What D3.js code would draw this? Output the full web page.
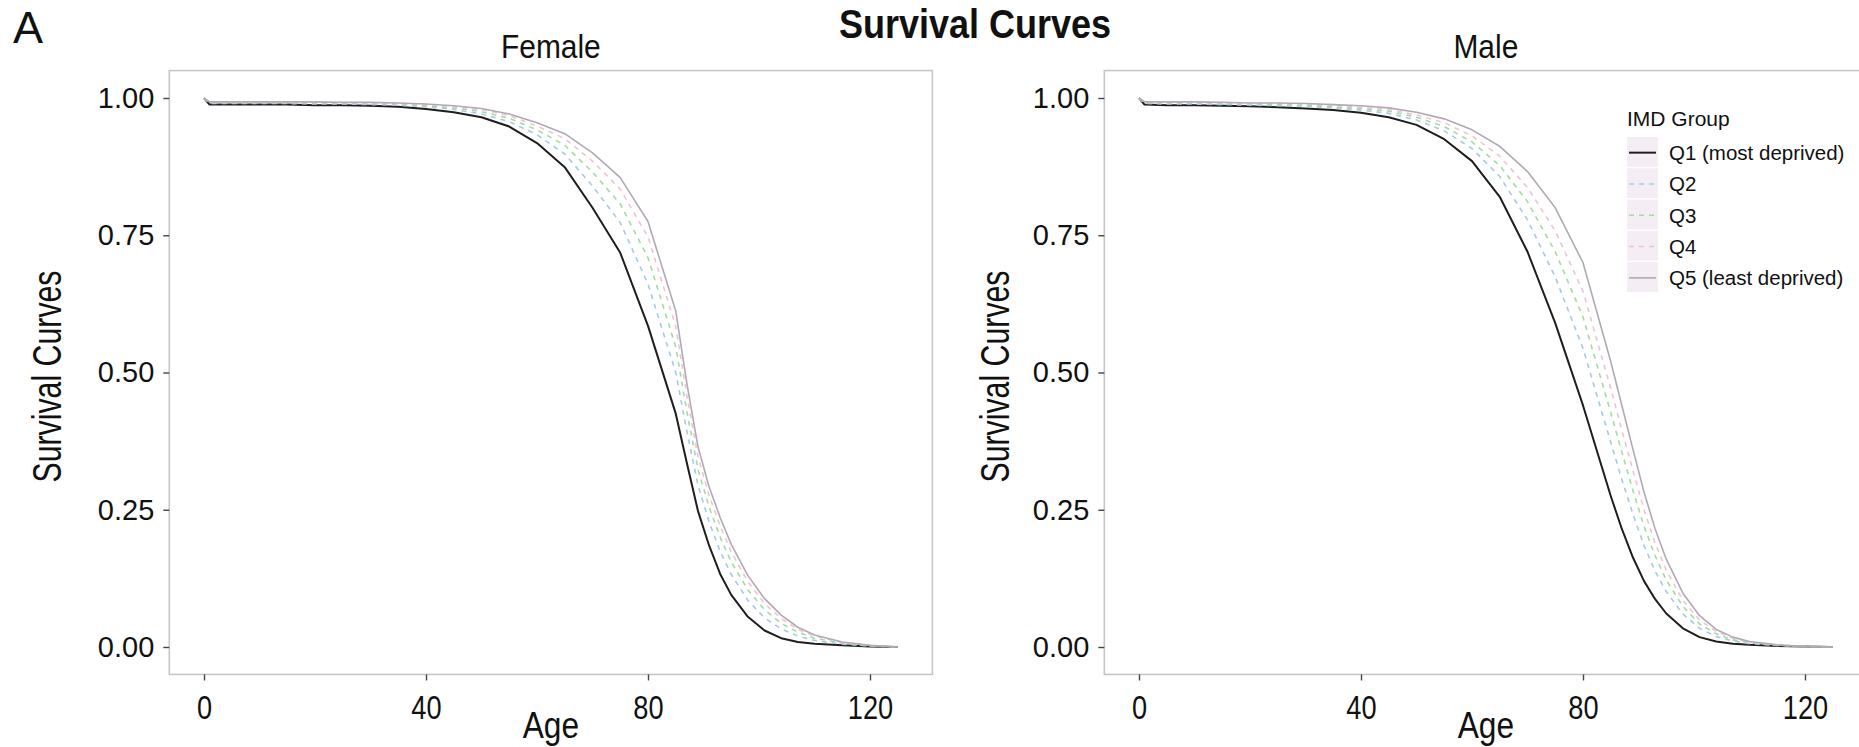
<!DOCTYPE html>
<html>
<head>
<meta charset="utf-8">
<script src="https://cdn.jsdelivr.net/npm/d3@7"></script>
<style>
  html, body { margin: 0; padding: 0; background: #fff; }
  svg { display: block; }
</style>
</head>
<body>
<svg id="chart" width="1859" height="747"></svg>
<script>
// Survival by age and deprivation quintile, per sex
const ages = [0, 1, 5, 10, 15, 20, 25, 30, 35, 40, 45, 50, 55, 60, 65, 70, 75, 80, 85,
              87, 89, 91, 93, 95, 98, 101, 104, 107, 110, 115, 120, 125];

const femaleQ1 = [1.000, 0.988, 0.988, 0.988, 0.988, 0.987, 0.987, 0.986, 0.984, 0.980, 0.974, 0.965, 0.948, 0.918, 0.874, 0.800, 0.718, 0.585, 0.425,
                  0.335, 0.248, 0.185, 0.133, 0.095, 0.055, 0.030, 0.016, 0.009, 0.006, 0.003, 0.001, 0.000];
const femaleQ2 = [1.000, 0.990, 0.990, 0.990, 0.990, 0.989, 0.989, 0.988, 0.987, 0.984, 0.979, 0.971, 0.957, 0.933, 0.898, 0.840, 0.773, 0.661, 0.500,
                  0.393, 0.295, 0.228, 0.174, 0.132, 0.085, 0.053, 0.033, 0.020, 0.012, 0.005, 0.002, 0.000];
const femaleQ3 = [1.000, 0.991, 0.991, 0.991, 0.991, 0.991, 0.990, 0.990, 0.989, 0.986, 0.982, 0.975, 0.963, 0.942, 0.914, 0.865, 0.807, 0.709, 0.547,
                  0.429, 0.324, 0.255, 0.200, 0.155, 0.104, 0.068, 0.043, 0.027, 0.016, 0.007, 0.002, 0.000];
const femaleQ4 = [1.000, 0.992, 0.992, 0.992, 0.992, 0.992, 0.991, 0.991, 0.990, 0.988, 0.984, 0.979, 0.968, 0.949, 0.926, 0.885, 0.834, 0.747, 0.584,
                  0.458, 0.347, 0.276, 0.221, 0.173, 0.119, 0.079, 0.052, 0.032, 0.020, 0.008, 0.003, 0.000];
const femaleQ5 = [1.000, 0.993, 0.993, 0.993, 0.993, 0.993, 0.992, 0.992, 0.991, 0.989, 0.986, 0.981, 0.971, 0.955, 0.935, 0.900, 0.855, 0.775, 0.612,
                  0.480, 0.365, 0.292, 0.236, 0.187, 0.130, 0.088, 0.058, 0.036, 0.022, 0.009, 0.003, 0.000];

const maleQ1 = [1.000, 0.988, 0.987, 0.987, 0.986, 0.985, 0.983, 0.981, 0.978, 0.973, 0.965, 0.951, 0.925, 0.885, 0.820, 0.720, 0.590, 0.440, 0.275,
                0.215, 0.163, 0.120, 0.087, 0.061, 0.034, 0.018, 0.010, 0.006, 0.004, 0.002, 0.001, 0.000];
const maleQ2 = [1.000, 0.990, 0.989, 0.989, 0.988, 0.987, 0.986, 0.985, 0.982, 0.978, 0.972, 0.960, 0.940, 0.908, 0.857, 0.778, 0.674, 0.544, 0.373,
                0.305, 0.242, 0.185, 0.138, 0.101, 0.060, 0.034, 0.019, 0.011, 0.006, 0.003, 0.001, 0.000];
const maleQ3 = [1.000, 0.991, 0.991, 0.991, 0.990, 0.989, 0.988, 0.987, 0.984, 0.981, 0.976, 0.965, 0.948, 0.920, 0.877, 0.811, 0.720, 0.601, 0.427,
                0.355, 0.285, 0.220, 0.166, 0.122, 0.074, 0.042, 0.024, 0.013, 0.008, 0.003, 0.001, 0.000];
const maleQ4 = [1.000, 0.992, 0.992, 0.992, 0.991, 0.990, 0.990, 0.989, 0.987, 0.983, 0.979, 0.969, 0.955, 0.931, 0.894, 0.837, 0.758, 0.648, 0.471,
                0.395, 0.321, 0.250, 0.189, 0.140, 0.085, 0.049, 0.028, 0.016, 0.009, 0.004, 0.001, 0.000];
const maleQ5 = [1.000, 0.993, 0.993, 0.993, 0.992, 0.991, 0.991, 0.990, 0.988, 0.986, 0.982, 0.974, 0.962, 0.942, 0.912, 0.866, 0.800, 0.700, 0.520,
                0.440, 0.360, 0.282, 0.215, 0.160, 0.098, 0.057, 0.032, 0.018, 0.010, 0.004, 0.001, 0.000];

const groupLabels = ["Q1 (most deprived)", "Q2", "Q3", "Q4", "Q5 (least deprived)"];
const groupColors = ["#1e1e1e", "#a3cbe6", "#a3dc9c", "#efc4d2", "#b2a8b6"];
const groupDashes = [null, "5,5", "5,5", "5,5", null];
const groupWidths = [2.0, 1.6, 1.6, 1.6, 1.6];

const panelTitles = ["Female", "Male"];
const xTicks = [0, 40, 80, 120];
const yTicks = [0, 0.25, 0.5, 0.75, 1];

const panels = [
  { title: panelTitles[0], series: [femaleQ1, femaleQ2, femaleQ3, femaleQ4, femaleQ5], x0: 204, yTitleGap: 108 },
  { title: panelTitles[1], series: [maleQ1, maleQ2, maleQ3, maleQ4, maleQ5], x0: 1139, yTitleGap: 95 }
];

const svg = d3.select("#chart");
const FONT = "'Liberation Sans', Arial, Helvetica, sans-serif";
const NARROW = 0.88;   // horizontal squeeze applied to the condensed labels

// Write a text element; squeeze scales its natural width, length forces an exact width
function label(g, txt, opts) {
  const t = g.append("text")
    .attr("x", opts.x).attr("y", opts.y)
    .attr("font-family", FONT)
    .attr("font-size", opts.size)
    .attr("font-weight", opts.weight || "normal")
    .attr("text-anchor", opts.anchor || "start")
    .attr("fill", opts.fill || "#111")
    .text(txt);
  if (opts.rotate) t.attr("transform", `rotate(${opts.rotate},${opts.x},${opts.y})`);
  if (opts.squeeze || opts.length) {
    const w = opts.length || t.node().getComputedTextLength() * opts.squeeze;
    t.attr("textLength", w).attr("lengthAdjust", "spacingAndGlyphs");
  }
  return t;
}

// Panel label and main title
label(svg, "A", { x: 13, y: 43, size: 45 });
label(svg, "Survival Curves", { x: 975, y: 38, size: 40, weight: "bold", anchor: "middle", squeeze: 0.9 });

const y = d3.scaleLinear().domain([0, 1]).range([647, 98]);
const yTop = y(1.05), yBottom = y(-0.05);

panels.forEach((p, pi) => {
  const x = d3.scaleLinear().domain([0, 120]).range([p.x0, p.x0 + 666]);
  const left = x(-6.25), right = x(131.25);
  const g = svg.append("g");

  // clip region for the curves
  const clipId = "clip" + pi;
  svg.append("clipPath").attr("id", clipId)
    .append("rect").attr("x", left).attr("y", yTop).attr("width", right - left).attr("height", yBottom - yTop);

  // panel frame
  g.append("rect")
    .attr("x", left).attr("y", yTop)
    .attr("width", right - left).attr("height", yBottom - yTop)
    .attr("fill", "#fff").attr("stroke", "#c6c6c6").attr("stroke-width", 1.6);

  // curves
  const line = d3.line().x((d, i) => x(ages[i])).y(d => y(d)).curve(d3.curveLinear);
  const curves = g.append("g").attr("clip-path", `url(#${clipId})`);
  p.series.forEach((vals, k) => {
    curves.append("path")
      .attr("d", line(vals))
      .attr("fill", "none")
      .attr("stroke", groupColors[k])
      .attr("stroke-width", groupWidths[k])
      .attr("stroke-dasharray", groupDashes[k])
      .attr("stroke-linejoin", "round");
  });

  // y axis
  const yAxis = g.append("g").attr("transform", `translate(${left},0)`)
    .call(d3.axisLeft(y).tickValues(yTicks).tickFormat(d3.format(".2f")).tickSize(6).tickPadding(9));
  yAxis.select(".domain").remove();
  yAxis.selectAll(".tick line").attr("stroke", "#444").attr("stroke-width", 1.4);
  yAxis.selectAll(".tick text").attr("font-family", FONT).attr("font-size", 29).attr("fill", "#111");

  // x axis
  const xAxis = g.append("g").attr("transform", `translate(0,${yBottom})`)
    .call(d3.axisBottom(x).tickValues(xTicks).tickFormat(d3.format("d")).tickSize(6).tickPadding(14));
  xAxis.select(".domain").remove();
  xAxis.selectAll(".tick line").attr("stroke", "#444").attr("stroke-width", 1.4);
  xAxis.selectAll(".tick text").attr("font-family", FONT).attr("font-size", 34).attr("fill", "#111")
    .each(function () {
      const w = this.getComputedTextLength();
      d3.select(this).attr("textLength", w * 0.8).attr("lengthAdjust", "spacingAndGlyphs");
    });

  // strip title, axis titles
  const cx = (left + right) / 2;
  label(g, p.title, { x: cx, y: 58, size: 34, anchor: "middle", squeeze: NARROW });
  label(g, "Age", { x: cx, y: 738, size: 36, anchor: "middle", squeeze: NARROW });
  label(g, "Survival Curves", { x: left - p.yTitleGap, y: (yTop + yBottom) / 2 + 4, size: 40, anchor: "middle", rotate: -90, length: 212 });
});

// Legend
const lg = svg.append("g").attr("transform", "translate(1627,0)");
label(lg, "IMD Group", { x: 0, y: 126, size: 21 });
const rowH = 31.3, rowTop = 137;
groupLabels.forEach((name, k) => {
  const ry = rowTop + k * rowH;
  lg.append("rect").attr("x", 0).attr("y", ry).attr("width", 31).attr("height", rowH - 1.5).attr("fill", "#f4edf3");
  lg.append("line")
    .attr("x1", 2).attr("x2", 29).attr("y1", ry + rowH / 2).attr("y2", ry + rowH / 2)
    .attr("stroke", groupColors[k]).attr("stroke-width", groupWidths[k])
    .attr("stroke-dasharray", groupDashes[k]);
  label(lg, name, { x: 42, y: ry + rowH / 2 + 7.5, size: 20.5 });
});
</script>
</body>
</html>
